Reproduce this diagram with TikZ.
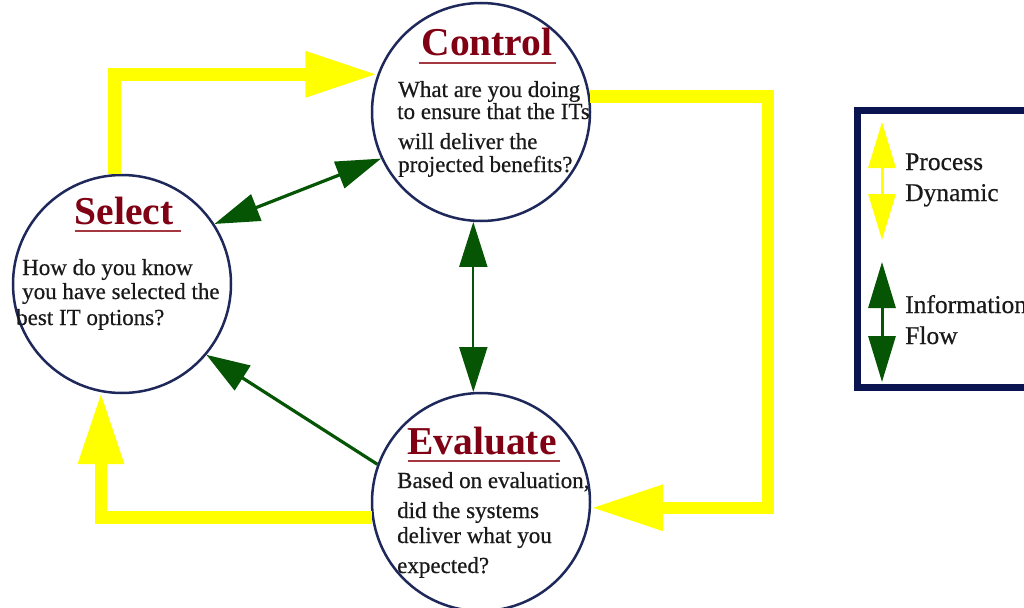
\documentclass[tikz,border=0pt]{standalone}
\usepackage{fontspec}
\setmainfont{Liberation Serif}
\newfontfamily\bodyfont[FakeBold=0.5]{Liberation Serif}
\usetikzlibrary{arrows.meta}
\definecolor{ylw}{RGB}{255,255,0}
\definecolor{grn}{RGB}{5,85,5}
\definecolor{navy}{RGB}{30,40,90}
\definecolor{ttl}{RGB}{128,0,20}
\definecolor{uline}{RGB}{165,55,65}
\definecolor{boxc}{RGB}{10,20,80}
\begin{document}
\begin{tikzpicture}[x=1pt,y=-1pt,
  circ/.style={circle,draw=navy,line width=2.5pt,minimum size=218pt,inner sep=0pt},
  ttlnode/.style={font=\fontsize{39.5}{44}\selectfont\bfseries,text=ttl,inner sep=0pt,anchor=base},
  uln/.style={draw=uline,line width=2pt},
  body/.style={font=\bodyfont\fontsize{23}{25}\selectfont,text=black!90,inner sep=0pt,anchor=base west},
  legtxt/.style={font=\bodyfont\fontsize{25.5}{27}\selectfont,text=black!90,inner sep=0pt,anchor=base west},
  proc/.style={draw=ylw,line width=12.5pt,-{Triangle[length=72pt,width=43pt]}},
  info/.style={draw=grn,line width=3.2pt,{Triangle[length=45pt,width=28pt]}-{Triangle[length=45pt,width=28pt]}},
  infoone/.style={draw=grn,line width=3.2pt,-{Triangle[length=43pt,width=29pt]}},
  legproc/.style={draw=ylw,line width=3pt,{Triangle[length=46pt,width=27pt]}-{Triangle[length=46pt,width=27pt]}},
  leginfo/.style={draw=grn,line width=3pt,{Triangle[length=46pt,width=27pt]}-{Triangle[length=46pt,width=27pt]}}
]
\useasboundingbox[fill=white] (0,0) rectangle (1024,607);

% circles
\node[circ] (ctrl) at (481,112) {};
\node[circ] (sel) at (122,284) {};
\node[circ] (eval) at (481,502) {};

% titles
\node[ttlnode] (ctrlT) at (487,56) {Control};
\node[ttlnode] (selT) at (124,224) {Select};
\node[ttlnode] (evalT) at (482,454) {Evaluate};
\draw[uln] (419,63) -- (556,63);
\draw[uln] (75,231) -- (181,231);
\draw[uln] (408,461) -- (560,461);

% body texts
\node[body] (c1) at (398,97) {What are you doing};
\node[body] (c2) at (397,119) {to ensure that the ITs};
\node[body] (c3) at (398,149) {will deliver the};
\node[body] (c4) at (398,172) {projected benefits?};

\node[body] (s1) at (22,275) {How do you know};
\node[body] (s2) at (22,299) {you have selected the};
\node[body] (s3) at (16,325) {best IT options?};

\node[body] (e1) at (397,488) {Based on evaluation,};
\node[body] (e2) at (397,518) {did the systems};
\node[body] (e3) at (397,543) {deliver what you};
\node[body] (e4) at (397,573) {expected?};

% process dynamic (yellow)
\draw[proc] (sel.94) |- (ctrl.160);
\coordinate (yr) at (768,300);
\draw[proc] (ctrl.8) -| (yr) |- (eval.-3);
\draw[proc] (eval.188) -| (sel.259);

% information flow (green)
\draw[info] (sel.33) -- (ctrl.205);
\draw[info,line width=2pt] (ctrl.266) -- (eval.94);
\draw[infoone] (eval.160) -- (sel.-40);

% legend
\draw[boxc,line width=7pt] (857,111) rectangle (1120,387);
\coordinate (ly1) at (882,122);
\coordinate (ly2) at (882,240);
\coordinate (lg1) at (882,262);
\coordinate (lg2) at (882,382);
\draw[legproc] (ly1) -- (ly2);
\draw[leginfo] (lg1) -- (lg2);
\node[legtxt] (lp1) at (905,170) {Process};
\node[legtxt] (lp2) at (905,201) {Dynamic};
\node[legtxt] (li1) at (905,313) {Information};
\node[legtxt] (li2) at (905,344) {Flow};
\end{tikzpicture}
\end{document}
